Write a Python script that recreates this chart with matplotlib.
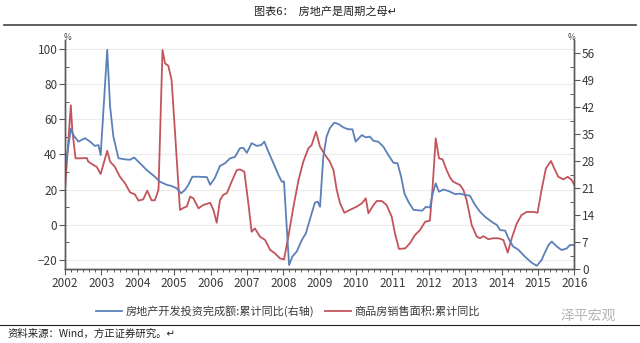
import matplotlib
matplotlib.use("Agg")
import matplotlib.pyplot as plt
from matplotlib.lines import Line2D
from matplotlib.ticker import MultipleLocator

plt.rcParams['font.family'] = ['Noto Sans CJK SC', 'DejaVu Sans']

# 商品房销售面积:累计同比 (left axis, %)
red_t = [2002.00, 2002.16, 2002.20, 2002.29, 2002.41, 2002.60, 2002.64, 2002.78, 2002.87, 2002.98,
         2003.16, 2003.24, 2003.37, 2003.51, 2003.65, 2003.79, 2003.92, 2004.02, 2004.15, 2004.26,
         2004.38, 2004.47, 2004.57, 2004.68, 2004.75, 2004.84, 2004.93, 2005.02, 2005.16, 2005.25,
         2005.35, 2005.44, 2005.53, 2005.67, 2005.80, 2005.99, 2006.08, 2006.17, 2006.26, 2006.35,
         2006.45, 2006.58, 2006.72, 2006.81, 2006.93, 2007.04, 2007.13, 2007.22, 2007.36, 2007.50,
         2007.64, 2007.77, 2007.91, 2008.02, 2008.14, 2008.28, 2008.42, 2008.55, 2008.69, 2008.78,
         2008.90, 2009.01, 2009.15, 2009.28, 2009.38, 2009.47, 2009.56, 2009.68, 2009.83, 2010.02,
         2010.16, 2010.27, 2010.34, 2010.48, 2010.57, 2010.71, 2010.84, 2010.98, 2011.07, 2011.18,
         2011.35, 2011.48, 2011.62, 2011.76, 2011.90, 2012.03, 2012.10, 2012.19, 2012.28, 2012.38,
         2012.49, 2012.58, 2012.67, 2012.86, 2012.95, 2013.04, 2013.18, 2013.32, 2013.41, 2013.50,
         2013.64, 2013.77, 2013.91, 2014.05, 2014.17, 2014.28, 2014.42, 2014.55, 2014.69, 2014.87,
         2014.99, 2015.10, 2015.22, 2015.36, 2015.47, 2015.56, 2015.70, 2015.82, 2015.93, 2016.00]
red_v = [20, 68, 54, 37.8, 37.8, 38, 35.9, 34, 33, 28.9,
         42.1, 35.9, 33, 27.3, 23.6, 18.4, 17.3, 13.7, 14.4, 19.4,
         13.9, 13.9, 19.8, 99.5, 91.9, 90.5, 82.4, 54, 8.4, 9.5,
         10.4, 16, 15, 9.3, 11.2, 12.5, 8.4, 1.1, 14, 17,
         18, 24.5, 31.1, 31.5, 30.2, 12.2, -4, -2.1, -6.8, -8.7,
         -14.4, -16.3, -19.2, -19.8, -6.8, 10.3, 25.5, 35.9, 43.5, 45.4,
         53, 44.4, 39.7, 35.9, 31.1, 19.8, 12.2, 6.8, 8.4, 10.3,
         12.2, 15, 6.5, 11.2, 13.5, 13.5, 11.2, 4.6, -4.9, -13.8,
         -13.5, -10.6, -5.9, -3, 1.7, 2.3, 19.8, 49.2, 37.8, 37.2,
         31.1, 27, 24.5, 22.6, 19.8, 14, -0.2, -6.8, -7.7, -6.5,
         -8.3, -7.7, -7.7, -8.7, -15.9, -7.7, 0.8, 5.5, 7.3, 7.3,
         6.8, 19.8, 32.1, 36.3, 31.1, 27.3, 25.8, 27.3, 25.4, 22.6]

# 房地产开发投资完成额:累计同比 (right axis, %)
blue_t = [2002.00, 2002.08, 2002.16, 2002.23, 2002.37, 2002.55, 2002.69, 2002.82, 2002.92, 2002.98,
          2003.16, 2003.24, 2003.33, 2003.47, 2003.65, 2003.79, 2003.90, 2004.06, 2004.25, 2004.47,
          2004.61, 2004.80, 2004.93, 2005.07, 2005.19, 2005.30, 2005.39, 2005.50, 2005.67, 2005.90,
          2005.99, 2006.12, 2006.26, 2006.40, 2006.54, 2006.67, 2006.81, 2006.90, 2007.00, 2007.13,
          2007.27, 2007.39, 2007.48, 2007.59, 2007.73, 2007.87, 2007.96, 2008.02, 2008.10, 2008.16,
          2008.25, 2008.37, 2008.51, 2008.62, 2008.74, 2008.87, 2008.95, 2009.01, 2009.10, 2009.19,
          2009.28, 2009.40, 2009.51, 2009.65, 2009.79, 2009.90, 2009.99, 2010.16, 2010.27, 2010.38,
          2010.48, 2010.61, 2010.75, 2010.89, 2011.03, 2011.14, 2011.24, 2011.33, 2011.44, 2011.58,
          2011.70, 2011.82, 2011.92, 2012.03, 2012.11, 2012.19, 2012.28, 2012.40, 2012.54, 2012.72,
          2012.86, 2012.99, 2013.13, 2013.27, 2013.41, 2013.55, 2013.73, 2013.87, 2013.96, 2014.10,
          2014.21, 2014.32, 2014.46, 2014.64, 2014.83, 2014.97, 2015.10, 2015.19, 2015.29, 2015.38,
          2015.52, 2015.65, 2015.79, 2015.88, 2016.00]
blue_v = [27, 31, 36.5, 34.8, 33.1, 34, 33.1, 32, 32.2, 29.6,
          56.9, 42.2, 34.4, 28.8, 28.5, 28.4, 29, 27.5, 25.7, 24,
          22.7, 21.9, 21.6, 21, 19.7, 20.6, 21.9, 24, 24, 23.9,
          21.9, 23.7, 26.8, 27.5, 28.8, 29.1, 31.4, 31.5, 30.2, 32.7,
          32.0, 32.2, 33.1, 30.5, 27.5, 24.4, 22.7, 22.8, 10.2, 1.1,
          3.3, 4.6, 7.6, 9.3, 13.2, 17.3, 17.5, 16.2, 29.2, 34.4,
          36.6, 38, 37.7, 36.8, 36.3, 36.3, 33.1, 34.8, 34.2, 34.4,
          33.3, 33.1, 31.8, 29.6, 27.6, 27.5, 24, 19.7, 17.5, 15.4,
          15.3, 15.2, 16.2, 16, 19.7, 22.3, 20.1, 20.7, 20.3, 19.5,
          19.6, 19.3, 19.1, 16.7, 14.9, 13.6, 12.3, 11.5, 10.2, 10,
          7.6, 5.9, 5.1, 3.3, 1.7, 0.9, 2.4, 4.3, 6.3, 7.2,
          5.9, 5.0, 5.4, 6.3, 6.3]

years = list(range(2002, 2017))
left_ticks = [-20, 0, 20, 40, 60, 80, 100]
right_ticks = [0, 7, 14, 21, 28, 35, 42, 49, 56]

blue_name = '房地产开发投资完成额:累计同比(右轴)'
red_name = '商品房销售面积:累计同比'

BLUE = '#5b80b8'
RED = '#c3545a'
AXC = '#595959'
TXT = '#3a3a3a'

fig = plt.figure(figsize=(6.4, 3.43), dpi=100)
ax = fig.add_axes([65 / 640, 1 - 269.3 / 343, (574.3 - 65) / 640, (269.3 - 40) / 343])
ax2 = ax.twinx()

ax.plot(red_t, red_v, color=RED, lw=1.3)
ax2.plot(blue_t, blue_v, color=BLUE, lw=1.3)

ax.set_xlim(2002, 2016)
ax.set_ylim(-25.4, 105.2)
ax2.set_ylim(0, 59.45)

ax.set_xticks(years)
ax.set_xticklabels([str(y) for y in years])
ax.xaxis.set_minor_locator(MultipleLocator(1 / 6))
ax.set_yticks(left_ticks)
ax.yaxis.set_minor_locator(MultipleLocator(10))
ax2.set_yticks(right_ticks)
ax2.yaxis.set_minor_locator(MultipleLocator(3.5))

ax.yaxis.grid(True, color='#ececec', lw=0.8)
ax.set_axisbelow(True)

for a in (ax, ax2):
    a.spines['top'].set_visible(False)
    for s in ('left', 'right', 'bottom'):
        a.spines[s].set_color(AXC)
        a.spines[s].set_linewidth(1.0)
    a.tick_params(which='major', direction='out', length=4, width=0.8, color=AXC,
                  labelsize=8.5, labelcolor=TXT, pad=1.5)
    a.tick_params(which='minor', direction='in', length=3, width=0.7, color=AXC)
ax.tick_params(axis='x', which='minor', direction='out', length=2.5)

fig.text(68 / 640, 1 - 38 / 343, '%', fontsize=6, color=TXT, ha='center', va='center')
fig.text(572 / 640, 1 - 38 / 343, '%', fontsize=6, color=TXT, ha='center', va='center')

handles = [Line2D([], [], color=BLUE, lw=1.3), Line2D([], [], color=RED, lw=1.3)]
fig.legend(handles, [blue_name, red_name], loc='center', ncol=2, frameon=False,
           bbox_to_anchor=(288 / 640, 1 - 311 / 343), fontsize=8, handlelength=2.3,
           handletextpad=0.3, columnspacing=1.0, labelcolor=TXT)

fig.text(326 / 640, 1 - 11 / 343, '图表6：  房地产是周期之母↵', fontsize=8, color='#222222',
         ha='center', va='center')
fig.add_artist(Line2D([4 / 640, 636 / 640], [1 - 25 / 343, 1 - 25 / 343], color='#444444', lw=1.2))
fig.add_artist(Line2D([0, 1], [1 - 325 / 343, 1 - 325 / 343], color='#222222', lw=0.8))

fig.text(588 / 640, 1 - 316 / 343, '泽平宏观', fontsize=10, color='#b5b5b5', ha='center', va='center')
fig.text(8 / 640, 1 - 334 / 343, '资料来源：Wind，方正证券研究。↵', fontsize=7.5, color='#222222',
         ha='left', va='center', style='italic')

fig.savefig('out.png', dpi=100)
